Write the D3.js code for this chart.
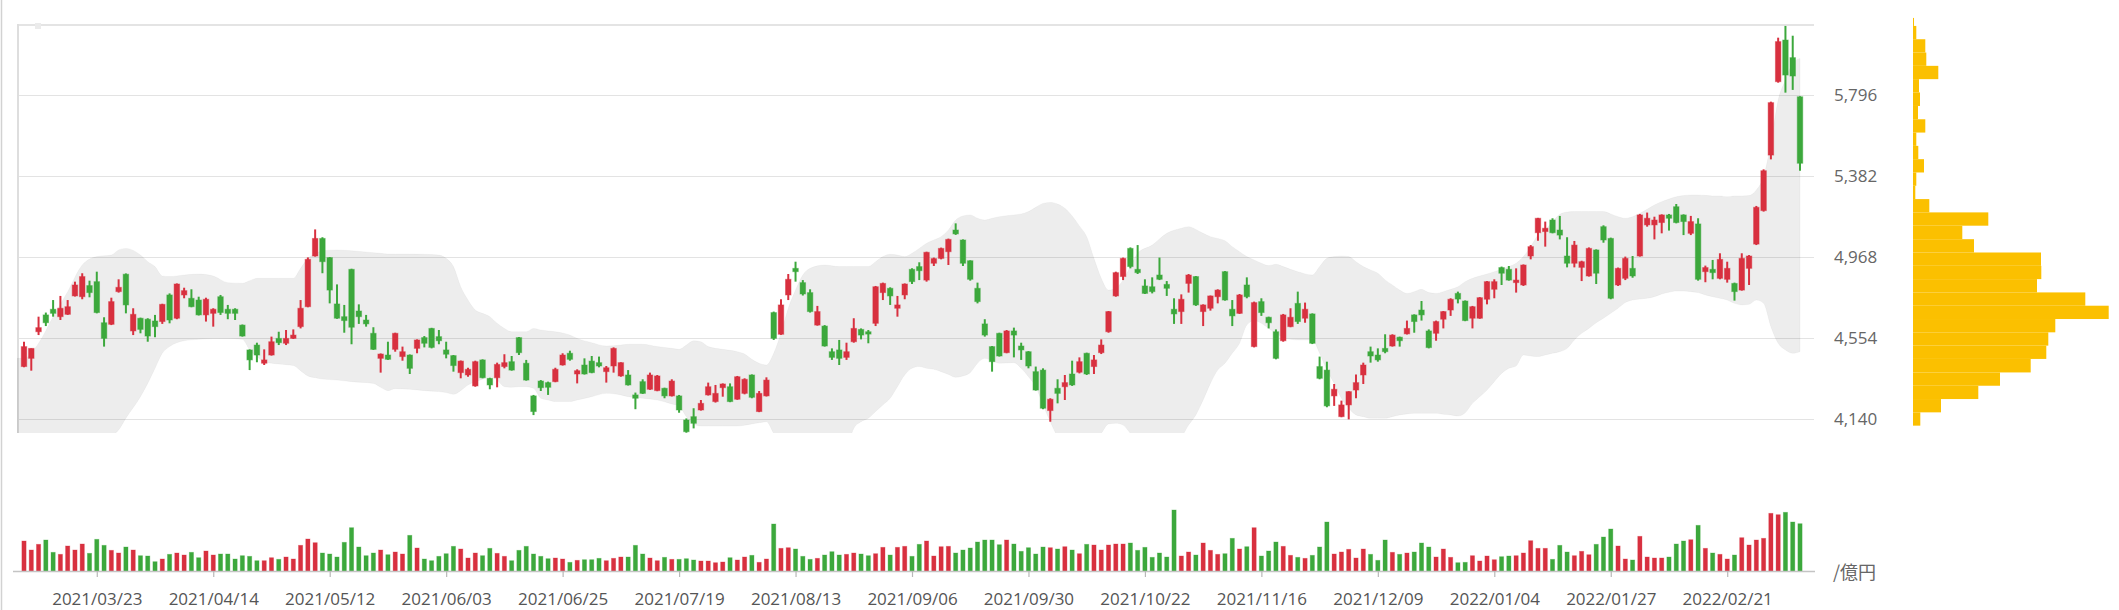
<!DOCTYPE html>
<html><head><meta charset="utf-8">
<script src="https://cdn.jsdelivr.net/npm/d3@7"></script>
<style>html,body{margin:0;padding:0;background:#fff;}svg{display:block;}</style>
</head><body>
<svg id="chart" width="2119" height="610"></svg>
<script>
// ---- data ----
const open = [4408,4450,4586,4672,4701,4663,4675,4769,4765,4822,4842,4632,4624,4791,4880,4590,4655,4650,4641,4638,
4774,4655,4774,4757,4748,4672,4680,4765,4701,4701,4620,4493,4518,4425,4467,4552,4527,4552,4612,4714,
4973,5063,4965,4728,4663,4905,4692,4646,4578,4450,4467,4496,4459,4467,4501,4556,4603,4561,4493,4464,
4377,4365,4309,4442,4348,4351,4408,4433,4556,4425,4258,4334,4326,4331,4416,4476,4370,4416,4436,4428,
4382,4411,4360,4365,4263,4331,4292,4285,4297,4258,4258,4135,4152,4186,4263,4229,4300,4305,4241,4271,
4365,4178,4258,4684,4573,4774,4910,4837,4786,4620,4615,4484,4493,4455,4535,4598,4586,4629,4786,4808,
4706,4774,4905,4919,4850,4936,4961,4995,5106,5055,4949,4808,4626,4510,4578,4479,4590,4513,4484,4382,
4390,4183,4297,4305,4370,4379,4476,4408,4479,4586,4769,4868,5012,4905,4820,4816,4876,4828,4701,4689,
4833,4868,4689,4706,4765,4893,4701,4680,4825,4510,4740,4660,4586,4540,4612,4731,4655,4677,4408,4390,
4258,4152,4212,4288,4365,4484,4467,4501,4513,4558,4575,4672,4697,4590,4578,4650,4697,4782,4743,4655,
4655,4752,4803,4914,4905,4837,4825,4973,5092,5098,5157,5106,4973,4936,4915,4871,5004,5123,5063,4825,
4859,4910,4973,5132,5132,5144,5183,5225,5183,5089,5137,4893,4905,4859,4854,4833,4799,4910,5034,5205,
5489,5864,6077,5987,5787];
const high = [4535,4501,4663,4684,4748,4769,4748,4842,4885,4847,4893,4660,4760,4854,4884,4706,4658,4655,4672,4729,
4782,4833,4811,4803,4765,4760,4706,4774,4723,4706,4623,4496,4530,4496,4561,4586,4595,4598,4748,4966,
5109,5069,4968,4828,4723,4908,4726,4672,4609,4475,4535,4581,4510,4470,4547,4564,4606,4595,4535,4467,
4439,4402,4438,4445,4351,4428,4471,4462,4559,4442,4263,4339,4331,4402,4476,4489,4394,4450,4462,4459,
4411,4506,4430,4390,4275,4343,4377,4365,4300,4343,4263,4143,4195,4237,4326,4314,4322,4322,4360,4348,
4368,4283,4353,4689,4752,4881,4944,4850,4803,4718,4620,4501,4544,4530,4655,4603,4595,4820,4837,4813,
4769,4833,4910,4941,4995,4965,5016,5062,5140,5058,4951,4837,4650,4513,4581,4595,4607,4530,4487,4408,
4399,4246,4343,4365,4438,4455,4479,4467,4547,4692,4893,4965,5017,5029,4854,4864,4965,4845,4757,4777,
4881,4871,4726,4771,4803,4896,4748,4779,4864,4740,4757,4663,4598,4677,4706,4791,4735,4680,4459,4433,
4319,4234,4282,4368,4428,4510,4501,4573,4573,4561,4643,4675,4743,4598,4643,4692,4757,4791,4746,4718,
4763,4845,4854,4919,4922,4910,4930,5029,5168,5149,5166,5178,5069,5050,4949,5017,5007,5130,5067,4914,
4970,4973,5188,5195,5174,5186,5188,5239,5186,5178,5166,4924,4953,4987,4944,4837,4987,4978,5229,5416,
5762,6089,6149,6099,5790];
const low = [4405,4387,4569,4615,4663,4646,4672,4766,4752,4762,4680,4510,4620,4786,4680,4569,4578,4535,4558,4626,
4629,4650,4757,4711,4669,4638,4612,4672,4650,4646,4561,4390,4430,4416,4464,4518,4518,4549,4603,4711,
4970,4885,4731,4652,4581,4522,4626,4612,4493,4377,4442,4484,4438,4370,4476,4506,4501,4522,4450,4382,
4348,4356,4305,4348,4292,4302,4399,4387,4467,4336,4160,4283,4263,4328,4413,4438,4322,4367,4374,4404,
4326,4377,4356,4311,4190,4268,4289,4282,4246,4255,4172,4070,4092,4183,4260,4224,4254,4226,4238,4266,
4246,4175,4255,4544,4570,4748,4842,4771,4684,4617,4510,4442,4416,4442,4530,4547,4527,4615,4748,4723,
4663,4752,4830,4850,4842,4922,4956,4927,5081,4922,4847,4731,4561,4382,4459,4476,4455,4442,4399,4285,
4190,4126,4220,4237,4309,4373,4365,4370,4472,4581,4765,4850,4910,4881,4779,4782,4850,4769,4626,4626,
4786,4718,4615,4694,4731,4745,4615,4677,4757,4506,4667,4603,4445,4535,4609,4626,4632,4523,4343,4200,
4207,4149,4138,4246,4319,4428,4433,4476,4510,4510,4572,4581,4643,4501,4540,4603,4667,4731,4640,4603,
4652,4726,4757,4825,4847,4786,4820,4956,5051,5021,5089,5058,4915,4915,4845,4868,4830,5041,4752,4820,
4850,4862,4970,5123,5058,5089,5103,5140,5080,5080,4847,4839,4854,4854,4837,4745,4796,4825,5029,5200,
5467,5859,5808,5822,5409];
const close = [4510,4501,4607,4632,4680,4706,4714,4825,4868,4786,4684,4552,4740,4813,4723,4675,4598,4564,4612,4726,
4646,4830,4796,4714,4672,4752,4701,4684,4680,4680,4564,4442,4467,4442,4535,4530,4552,4569,4706,4956,
5063,4944,4799,4655,4643,4609,4663,4626,4496,4472,4445,4578,4484,4399,4544,4527,4506,4540,4471,4413,
4436,4394,4433,4351,4314,4419,4428,4390,4479,4339,4178,4300,4302,4394,4467,4445,4387,4370,4377,4411,
4402,4501,4428,4314,4246,4271,4365,4360,4258,4334,4186,4075,4118,4220,4305,4271,4319,4229,4356,4343,
4251,4271,4339,4552,4723,4854,4893,4779,4689,4689,4513,4455,4450,4484,4603,4569,4574,4816,4833,4769,
4723,4830,4842,4898,4992,4960,5012,5058,5086,4936,4854,4740,4569,4433,4462,4590,4569,4493,4411,4288,
4195,4241,4271,4326,4314,4433,4370,4442,4518,4689,4888,4961,4919,4888,4782,4791,4854,4808,4677,4752,
4876,4723,4723,4769,4799,4748,4667,4774,4765,4735,4684,4632,4450,4672,4660,4638,4701,4527,4348,4207,
4292,4212,4280,4326,4416,4462,4442,4484,4569,4540,4603,4638,4672,4505,4638,4689,4752,4753,4643,4714,
4760,4842,4842,4885,4850,4850,4927,5021,5166,5115,5092,5080,4936,5029,4944,5012,4885,5055,4757,4910,
4961,4871,5183,5166,5157,5183,5166,5144,5149,5149,4854,4914,4888,4956,4910,4791,4961,4973,5222,5409,
5757,6069,5898,5893,5447];
// trading value (億円)
const volume = [3000,2100,2670,3100,1870,1670,2500,2100,2700,1770,3170,2570,2070,1800,2400,2100,1530,1500,930,1200,
1670,1800,1600,1870,1330,2000,1600,1700,1700,1200,1530,1470,1030,1030,1330,1170,1400,1200,2570,3200,
2830,1800,1700,1400,2870,4330,2400,1530,1800,2100,1630,1900,1700,3570,2300,1200,1030,1470,1730,2470,
2200,1300,1800,1530,2270,1770,1470,1030,2070,2470,1700,1470,1230,1300,1200,870,1070,1130,1130,1270,
1030,1270,1400,1400,2570,1700,1300,1030,1370,1170,1170,1230,1100,1000,1000,830,900,1330,1100,1400,
1570,870,1200,4700,2270,2330,2200,1470,1170,1270,1600,1930,1600,1670,1800,1700,1530,1730,2370,1600,
2370,2470,1470,2670,3000,1500,2430,2470,1800,2100,2300,2900,3100,3100,2630,3100,2700,1970,2330,1700,
2400,2330,2200,2430,2100,1730,2670,2600,2100,2600,2700,2700,2800,2070,2370,1370,1800,1400,6100,1500,
1900,1600,2800,2070,1670,1730,3270,2200,2430,4330,1500,2000,2900,2470,1570,1370,1270,1570,2400,4900,
1700,1900,2170,1300,2200,1670,1070,3100,1870,1670,1800,1900,2800,2400,1400,2200,1370,830,870,1530,
1000,1500,1130,1430,1500,1530,1800,3030,2270,2270,1170,2570,1900,1530,1970,1630,2670,3400,4200,2500,
1200,1100,3470,1400,1300,1300,1400,2700,3000,3130,4570,2270,1800,1670,1200,1600,3330,2600,3100,3270,
5770,5630,5870,4900,4730];
// Bollinger band: [candle index, upper, lower]
const bollinger = [[0,4450,3726],[2,4527,3811],[4,4663,3862],[6,4791,3896],[8,4927,3931],[10,4970,3982],[12,4978,4050],[13,5004,4084],[14,5012,4144],[16,4978,4254],
[17,4944,4322],[18,4919,4399],[19,4871,4476],[20,4868,4510],[22,4876,4540],[24,4881,4547],[26,4871,4551],[28,4837,4552],[30,4834,4547],[31,4847,4493],
[32,4859,4459],[33,4859,4433],[35,4859,4421],[37,4859,4413],[38,4910,4387],[39,4961,4360],[40,4983,4351],[41,5000,4344],[43,5004,4339],[45,5000,4331],
[48,4990,4322],[49,4987,4302],[50,4983,4285],[51,4983,4295],[53,4983,4292],[55,4982,4285],[57,4978,4280],[58,4961,4275],[59,4919,4266],[60,4816,4285],
[61,4748,4314],[62,4697,4331],[63,4680,4343],[64,4663,4356],[65,4629,4339],[66,4603,4305],[67,4586,4302],[68,4586,4305],[69,4586,4305],[70,4603,4297],
[71,4595,4246],[72,4590,4237],[73,4586,4229],[75,4569,4229],[76,4552,4237],[78,4530,4254],[80,4513,4271],[82,4518,4263],[83,4522,4254],[85,4522,4246],
[87,4510,4237],[89,4501,4217],[90,4496,4207],[91,4518,4152],[92,4540,4115],[93,4535,4104],[94,4510,4104],[96,4496,4104],[98,4484,4104],[99,4472,4108],
[100,4445,4115],[101,4425,4121],[102,4416,4126],[103,4476,4067],[104,4578,4016],[105,4706,3982],[106,4799,3965],[107,4876,3948],[108,4910,3948],[110,4927,3948],
[112,4919,3948],[113,4919,3990],[114,4919,4092],[115,4919,4126],[116,4919,4144],[117,4944,4178],[118,4970,4212],[119,4982,4246],[120,4978,4305],[121,4970,4365],
[122,4987,4399],[123,5012,4408],[124,5038,4399],[125,5055,4394],[126,5072,4382],[127,5106,4368],[128,5157,4353],[129,5178,4360],[130,5183,4377],[131,5166,4425],
[132,5157,4450],[133,5166,4438],[134,5174,4425],[136,5183,4428],[137,5188,4399],[138,5200,4356],[139,5222,4305],[140,5242,4212],[141,5247,4126],[142,5239,4050],
[143,5217,4016],[144,5178,3999],[145,5127,3999],[146,5072,3999],[147,4961,4033],[148,4859,4067],[149,4799,4115],[150,4808,4118],[151,4851,4109],[152,4919,4067],
[153,4987,4033],[155,5029,4016],[157,5089,4016],[159,5115,4050],[160,5123,4109],[161,5109,4161],[162,5089,4237],[163,5072,4322],[164,5063,4390],[165,5051,4425],
[166,5021,4476],[167,4995,4527],[168,4970,4620],[169,4953,4643],[170,4936,4629],[171,4924,4603],[172,4931,4578],[173,4919,4558],[174,4905,4547],[175,4893,4544],
[177,4876,4544],[178,4919,4476],[179,4961,4390],[180,4970,4322],[181,4973,4246],[182,4970,4195],[183,4944,4161],[184,4919,4152],[185,4902,4144],[186,4885,4144],
[187,4851,4144],[188,4825,4152],[189,4799,4161],[190,4782,4166],[191,4791,4169],[192,4803,4169],[193,4786,4169],[194,4782,4169],[195,4791,4164],[196,4803,4161],
[197,4816,4155],[198,4842,4172],[199,4859,4220],[200,4871,4254],[201,4881,4288],[202,4893,4331],[203,4905,4373],[204,4919,4399],[205,4936,4411],[206,4970,4467],
[207,5021,4462],[208,5080,4459],[209,5106,4467],[210,5149,4476],[211,5186,4484],[212,5198,4501],[213,5200,4544],[214,5200,4578],[215,5200,4603],[216,5200,4632],
[217,5200,4655],[218,5188,4680],[219,5174,4706],[220,5166,4735],[221,5174,4748],[222,5191,4753],[223,5212,4757],[224,5234,4765],[225,5251,4779],[226,5264,4788],
[227,5276,4794],[228,5282,4794],[229,5285,4791],[230,5285,4786],[231,5283,4774],[232,5280,4765],[233,5280,4757],[234,5276,4748],[235,5280,4731],[236,5280,4723],
[237,5282,4726],[238,5310,4748],[239,5379,4731],[240,5549,4612],[241,5770,4527],[242,5873,4493],[243,5958,4476],[244,5983,4484]];
// x-axis tick labels (every 16 trading days, starting at candle 10)
const tickIndex = [10,26,42,58,74,90,106,122,138,154,170,186,202,218,234];
const tickLabels = ["2021/03/23","2021/04/14","2021/05/12","2021/06/03","2021/06/25","2021/07/19","2021/08/13","2021/09/06","2021/09/30","2021/10/22","2021/11/16","2021/12/09","2022/01/04","2022/01/27","2022/02/21"];
const yTicks = [4140,4554,4968,5382,5796];
// volume-by-price profile (bin edges, volumes bottom to top)
const profileEdges = [4106,4174,4242,4310,4378,4447,4515,4583,4651,4719,4787,4855,4923,4991,5059,5128,5196,5264,5332,5400,5468,5536,5604,5672,5740,5809,5877,5945,6013,6081,6149,6190];
const profileVolume = [730,2800,6530,8700,11770,13330,13530,14230,19570,17230,12400,12830,12800,6100,4930,7530,1630,230,330,1100,530,330,1230,500,700,600,2530,1330,1230,330,100];
const volumeUnit = "/億円";

// ---- drawing ----
const RED = "#d8303f", GREEN = "#3ca83c";
const FONT = "'Open Sans','Noto Sans',sans-serif";
const svg = d3.select("#chart");
const plot = {left: 17, right: 1814, top: 24, bottom: 433};

const x = d3.scalePoint().domain(d3.range(open.length)).range([24, 1800]);
const y = d3.scaleLinear().domain([4140, 5796]).range([419, 95]);
const yv = d3.scaleLinear().domain([0, 7000]).range([571, 501]);
const xp = d3.scaleLinear().domain([0, 20000]).range([1913, 2113]);

svg.append("defs").append("clipPath").attr("id", "plotClip")
  .append("rect").attr("x", plot.left).attr("y", plot.top)
  .attr("width", plot.right - plot.left).attr("height", plot.bottom - plot.top);

// page left border
svg.append("line").attr("x1", 1.5).attr("x2", 1.5).attr("y1", 0).attr("y2", 610)
  .attr("stroke", "#d2d2d2").attr("stroke-width", 1.5);

// gridlines
svg.append("g").selectAll("line").data(yTicks).join("line")
  .attr("x1", plot.left).attr("x2", plot.right)
  .attr("y1", d => Math.round(y(d)) + 0.5).attr("y2", d => Math.round(y(d)) + 0.5)
  .attr("stroke", "#e3e3e3").attr("stroke-width", 1);
svg.append("line").attr("x1", plot.left).attr("x2", plot.right).attr("y1", plot.top + 1).attr("y2", plot.top + 1)
  .attr("stroke", "#e4e4e4").attr("stroke-width", 2);
svg.append("line").attr("x1", plot.left + 1).attr("x2", plot.left + 1).attr("y1", plot.top).attr("y2", plot.bottom)
  .attr("stroke", "#dedede").attr("stroke-width", 2);
svg.append("rect").attr("x", 35).attr("y", 23).attr("width", 6).attr("height", 6).attr("fill", "#ebebeb");

// y labels
svg.append("g").selectAll("text").data(yTicks).join("text")
  .attr("x", 1834).attr("y", d => y(d)).attr("dy", "0.36em")
  .attr("font-family", FONT).attr("font-size", 17).attr("fill", "#666")
  .text(d => d3.format(",")(d));

const pg = svg.append("g").attr("clip-path", "url(#plotClip)");

// Bollinger band
const bandArea = d3.area()
  .x(d => d.px)
  .y0(d => y(d[2])).y1(d => y(d[1]))
  .curve(d3.curveMonotoneX);
const bandPts = bollinger.map(d => Object.assign([...d], {px: x(d[0])}));
bandPts.unshift(Object.assign([...bollinger[0]], {px: plot.left}));
pg.append("path").datum(bandPts).attr("d", bandArea)
  .attr("fill", "#000").attr("fill-opacity", 0.072)
  .attr("stroke", "#000").attr("stroke-opacity", 0.03).attr("stroke-width", 1);

// candles
const idx = d3.range(open.length);
const col = i => close[i] >= open[i] ? RED : GREEN;
const cg = pg.append("g");
cg.selectAll("line").data(idx).join("line")
  .attr("x1", i => x(i)).attr("x2", i => x(i))
  .attr("y1", i => y(high[i])).attr("y2", i => y(low[i]))
  .attr("stroke", col).attr("stroke-width", 2);
cg.selectAll("rect").data(idx).join("rect")
  .attr("x", i => x(i) - 2.75).attr("width", 5.5)
  .attr("y", i => y(Math.max(open[i], close[i])))
  .attr("height", i => Math.max(2, Math.abs(y(open[i]) - y(close[i]))))
  .attr("fill", col).attr("stroke", col).attr("stroke-opacity", 0.45).attr("stroke-width", 1);

// volume bars
svg.append("g").selectAll("rect").data(idx).join("rect")
  .attr("x", i => x(i) - 2.1).attr("width", 4.2)
  .attr("y", i => yv(volume[i])).attr("height", i => yv(0) - yv(volume[i]))
  .attr("fill", col).attr("stroke", col).attr("stroke-opacity", 0.4).attr("stroke-width", 0.8);

// x axis
svg.append("line").attr("x1", 13).attr("x2", 1815).attr("y1", 571.5).attr("y2", 571.5)
  .attr("stroke", "#c4c4c4").attr("stroke-width", 1.6);
const xAxis = d3.axisBottom(x).tickValues(tickIndex)
  .tickFormat(i => tickLabels[tickIndex.indexOf(i)]).tickSize(6).tickPadding(16);
const ag = svg.append("g").attr("transform", "translate(0,571)").call(xAxis);
ag.select(".domain").remove();
ag.selectAll(".tick line").attr("stroke", "#b8b8b8").attr("stroke-width", 1.2);
ag.selectAll(".tick text").attr("font-family", FONT).attr("font-size", 17).attr("fill", "#555");

svg.append("text").attr("x", 1833).attr("y", 573).attr("dy", "0.36em")
  .attr("font-family", "'Noto Sans CJK JP','Open Sans',sans-serif").attr("font-size", 18).attr("fill", "#666")
  .text(volumeUnit);

// volume-by-price profile
svg.append("g").selectAll("rect").data(profileVolume).join("rect")
  .attr("x", xp(0))
  .attr("y", (v, k) => y(profileEdges[k + 1]))
  .attr("height", (v, k) => y(profileEdges[k]) - y(profileEdges[k + 1]))
  .attr("width", v => xp(v) - xp(0))
  .attr("fill", "#fbc000");
</script>
</body></html>
